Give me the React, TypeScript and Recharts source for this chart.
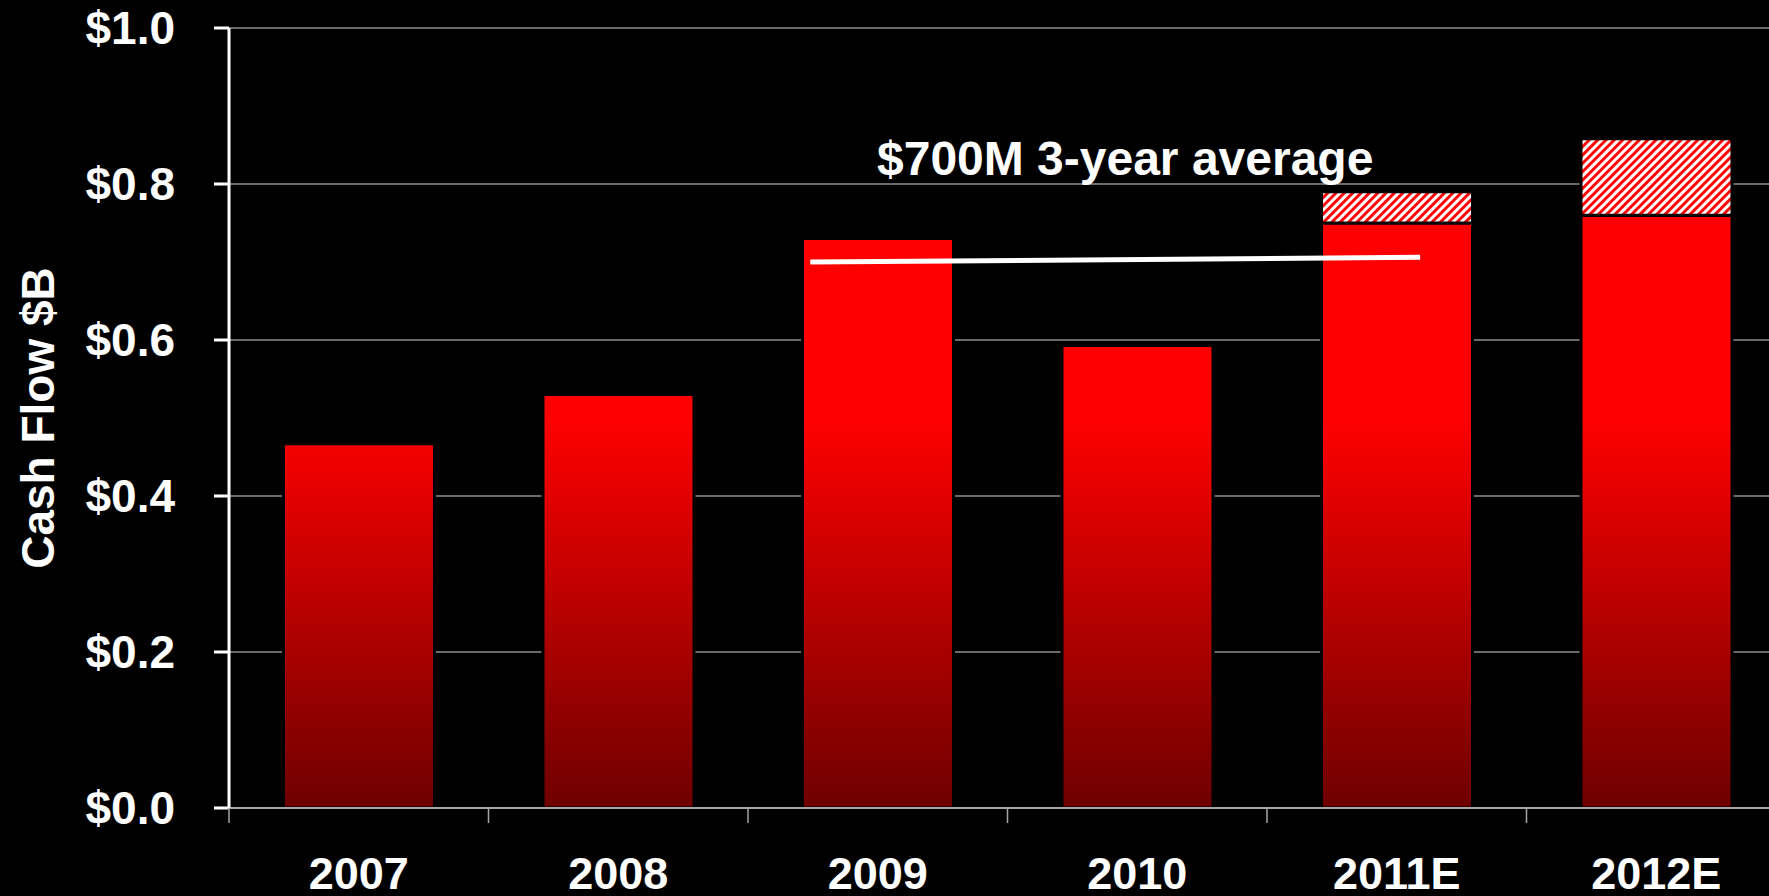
import React from 'react';
import { BarChart, Bar, XAxis, YAxis, CartesianGrid, ReferenceLine } from 'recharts';

const categories = ['2007', '2008', '2009', '2010', '2011E', '2012E'];
const baseValues = [0.467, 0.53, 0.73, 0.593, 0.75, 0.76];
const upsideValues = [0, 0, 0, 0, 0.04, 0.098];
const yTicks = [0, 0.2, 0.4, 0.6, 0.8, 1.0];
const avgLine = [
  { x: 2.24, y: 0.7 },
  { x: 4.59, y: 0.706 },
];
const avgLabel = '$700M 3-year average';
const yLabel = 'Cash Flow $B';
const numTicks = [0, 0.5, 1, 1.5, 2, 2.5, 3, 3.5, 4, 4.5, 5, 5.5, 6];

const data = categories.map((name, i) => ({
  name,
  pos: i + 0.5,
  base: baseValues[i],
  upside: upsideValues[i],
}));

const FONT = '"Liberation Sans", Arial, sans-serif';
const PLOT_TOP = 28;
const PLOT_BOTTOM = 808;

const XTick = (props: any) => {
  const { x, y, payload } = props;
  const v = payload.value as number;
  if (Number.isInteger(v)) {
    return <line x1={x} x2={x} y1={y} y2={y + 15} stroke="#a6a6a6" strokeWidth={1.5} />;
  }
  return (
    <text x={x} y={y + 81} textAnchor="middle" fill="#fff" fontSize={45} fontWeight="bold" fontFamily={FONT}>
      {categories[Math.floor(v)]}
    </text>
  );
};

const YLabel = (props: any) => {
  const vb = props.viewBox || {};
  const cy = (vb.y ?? PLOT_TOP) + (vb.height ?? PLOT_BOTTOM - PLOT_TOP) / 2;
  const cx = 38;
  return (
    <text
      x={cx}
      y={cy}
      transform={`rotate(-90, ${cx}, ${cy})`}
      textAnchor="middle"
      dominantBaseline="central"
      fill="#fff"
      fontSize={46}
      fontWeight="bold"
      fontFamily={FONT}
    >
      {yLabel}
    </text>
  );
};

const AvgLabel = (props: any) => {
  const vb = props.viewBox || {};
  const cx = (vb.x ?? 0) + (vb.width ?? 0) / 2 + 10;
  const y = (vb.y ?? 0) - 82;
  return (
    <text x={cx} y={y} textAnchor="middle" fill="#fff" fontSize={48} fontWeight="bold" fontFamily={FONT}>
      {avgLabel}
    </text>
  );
};

export default function App() {
  return (
    <div
      style={{
        position: 'absolute',
        left: 0,
        top: 0,
        width: 1769,
        height: 896,
        overflow: 'hidden',
        background: '#000',
      }}
    >
      <BarChart
        width={1800}
        height={896}
        data={data}
        margin={{ top: PLOT_TOP, right: 14, bottom: 0, left: 0 }}
        barCategoryGap="21%"
      >
        <defs>
          <linearGradient id="redGrad" gradientUnits="userSpaceOnUse" x1="0" y1={PLOT_TOP} x2="0" y2={PLOT_BOTTOM}>
            <stop offset="0%" stopColor="#ff0000" />
            <stop offset="50%" stopColor="#ff0000" />
            <stop offset="100%" stopColor="#6e0000" />
          </linearGradient>
          <pattern id="hatch" width="5.9" height="5.9" patternUnits="userSpaceOnUse" patternTransform="rotate(45)">
            <rect x="0" y="0" width="5.9" height="5.9" fill="#ffffff" />
            <rect x="0" y="0" width="2.9" height="5.9" fill="#ff0000" />
          </pattern>
        </defs>
        <CartesianGrid horizontal vertical={false} stroke="#d6d6d6" strokeWidth={1} xAxisId="num" />
        <XAxis xAxisId="cat" dataKey="name" hide height={0} />
        <XAxis
          xAxisId="num"
          dataKey="pos"
          type="number"
          domain={[0, 6]}
          ticks={numTicks}
          interval={0}
          height={88}
          tickSize={0}
          tickMargin={0}
          tickLine={false}
          axisLine={{ stroke: '#a6a6a6', strokeWidth: 2 }}
          tick={<XTick />}
          allowDataOverflow
        />
        <YAxis
          domain={[0, 1]}
          ticks={yTicks}
          interval={0}
          width={229}
          tickFormatter={(v: number) => `$${v.toFixed(1)}`}
          axisLine={{ stroke: '#fff', strokeWidth: 3 }}
          tickLine={{ stroke: '#fff', strokeWidth: 3 }}
          tickSize={15}
          tickMargin={39}
          tick={{ fill: '#fff', fontSize: 46, fontWeight: 'bold', fontFamily: FONT }}
          label={<YLabel />}
        />
        <Bar
          xAxisId="cat"
          dataKey="base"
          stackId="a"
          fill="url(#redGrad)"
          stroke="#000"
          strokeWidth={3}
          isAnimationActive={false}
        />
        <Bar
          xAxisId="cat"
          dataKey="upside"
          stackId="a"
          fill="url(#hatch)"
          stroke="#000"
          strokeWidth={3}
          isAnimationActive={false}
        />
        <ReferenceLine
          xAxisId="num"
          segment={avgLine}
          stroke="#fff"
          strokeWidth={5}
          ifOverflow="visible"
          label={<AvgLabel />}
        />
      </BarChart>
    </div>
  );
}
